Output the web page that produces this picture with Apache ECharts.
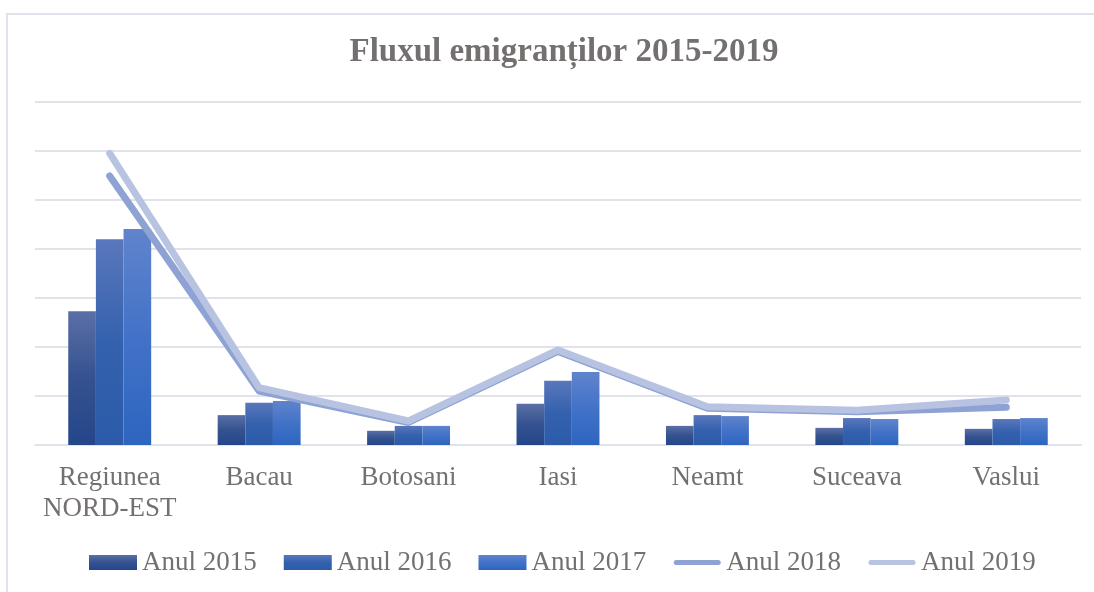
<!doctype html>
<html>
<head>
<meta charset="utf-8">
<title>Fluxul emigrantilor 2015-2019</title>
<script src="https://cdn.jsdelivr.net/npm/echarts@6/dist/echarts.min.js"></script>
<style>
  html, body { margin: 0; padding: 0; background: #fff; }
  #chart { width: 1094px; height: 592px; }
</style>
</head>
<body>
<div id="chart"></div>
<script>
// date (axa Y nu are etichete, unitati estimate)
var categories = ['Regiunea\nNORD-EST', 'Bacau', 'Botosani', 'Iasi', 'Neamt', 'Suceava', 'Vaslui'];
var anul2015 = [2730, 610, 290, 840, 390, 350, 330];
var anul2016 = [4200, 860, 390, 1310, 610, 550, 530];
var anul2017 = [4410, 900, 390, 1490, 590, 530, 550];
var anul2018 = [5490, 1100, 460, 1910, 750, 680, 770];
var anul2019 = [5950, 1170, 490, 1940, 780, 710, 920];

var textColor = '#747070';
var serif = '"Liberation Serif", "Times New Roman", serif';
// linie groasa cu capete rotunde pentru legenda (punctele M fixeaza cutia 48x15)
var lineIcon = 'path://M0,0M48,15M3,5L45,5A2.5,2.5,0,0,1,45,10L3,10A2.5,2.5,0,0,1,3,5Z';

function grad(top, mid, bottom) {
  return new echarts.graphic.LinearGradient(0, 0, 0, 1, [
    { offset: 0, color: top },
    { offset: 0.5, color: mid },
    { offset: 1, color: bottom }
  ]);
}

function barSerie(name, data, colors) {
  return {
    name: name,
    type: 'bar',
    data: data,
    barWidth: '18.5%',
    barGap: '0%',
    itemStyle: { color: grad(colors[0], colors[1], colors[2]) }
  };
}

function lineSerie(name, data, color) {
  return {
    name: name,
    type: 'line',
    data: data,
    symbol: 'none',
    lineStyle: { color: color, width: 7, cap: 'round', join: 'round' },
    itemStyle: { color: color }
  };
}

var myChart = echarts.init(document.getElementById('chart'));
myChart.setOption({
  animation: false,
  textStyle: { fontFamily: serif },
  graphic: [{
    type: 'rect',
    shape: { x: 7, y: 14, width: 1200, height: 700 },
    style: { fill: 'none', stroke: '#dee3eb', lineWidth: 2 },
    silent: true
  }],
  title: {
    text: 'Fluxul emigranților 2015-2019',
    left: 559,
    textAlign: 'center',
    top: 31,
    textStyle: { fontFamily: serif, fontSize: 33, fontWeight: 'bold', color: textColor }
  },
  legend: {
    bottom: 11,
    left: 84,
    itemWidth: 48,
    itemHeight: 15,
    itemGap: 27,
    textStyle: { fontFamily: serif, fontSize: 27, color: textColor },
    data: [
      { name: 'Anul 2015', icon: 'rect' },
      { name: 'Anul 2016', icon: 'rect' },
      { name: 'Anul 2017', icon: 'rect' },
      { name: 'Anul 2018', icon: lineIcon },
      { name: 'Anul 2019', icon: lineIcon }
    ]
  },
  grid: { left: 35, right: 13, top: 102, bottom: 147 },
  xAxis: {
    type: 'category',
    data: categories,
    axisLine: { show: true, lineStyle: { color: '#dfe3ea', width: 2 } },
    axisTick: { show: false },
    axisLabel: {
      margin: 17,
      fontFamily: serif,
      fontSize: 27,
      lineHeight: 31,
      color: textColor,
      interval: 0
    }
  },
  yAxis: {
    type: 'value',
    min: 0,
    max: 7000,
    interval: 1000,
    axisLabel: { show: false },
    axisLine: { show: false },
    axisTick: { show: false },
    splitLine: { lineStyle: { color: '#e0e4ea', width: 2 } }
  },
  series: [
    barSerie('Anul 2015', anul2015, ['#5b6fa6', '#34528f', '#24468a']),
    barSerie('Anul 2016', anul2016, ['#5a77bc', '#3461ae', '#2b5ba9']),
    barSerie('Anul 2017', anul2017, ['#6084cc', '#4272c8', '#2e65bf']),
    lineSerie('Anul 2018', anul2018, '#8ea3d4'),
    lineSerie('Anul 2019', anul2019, '#b8c3e2')
  ]
});
</script>
</body>
</html>
